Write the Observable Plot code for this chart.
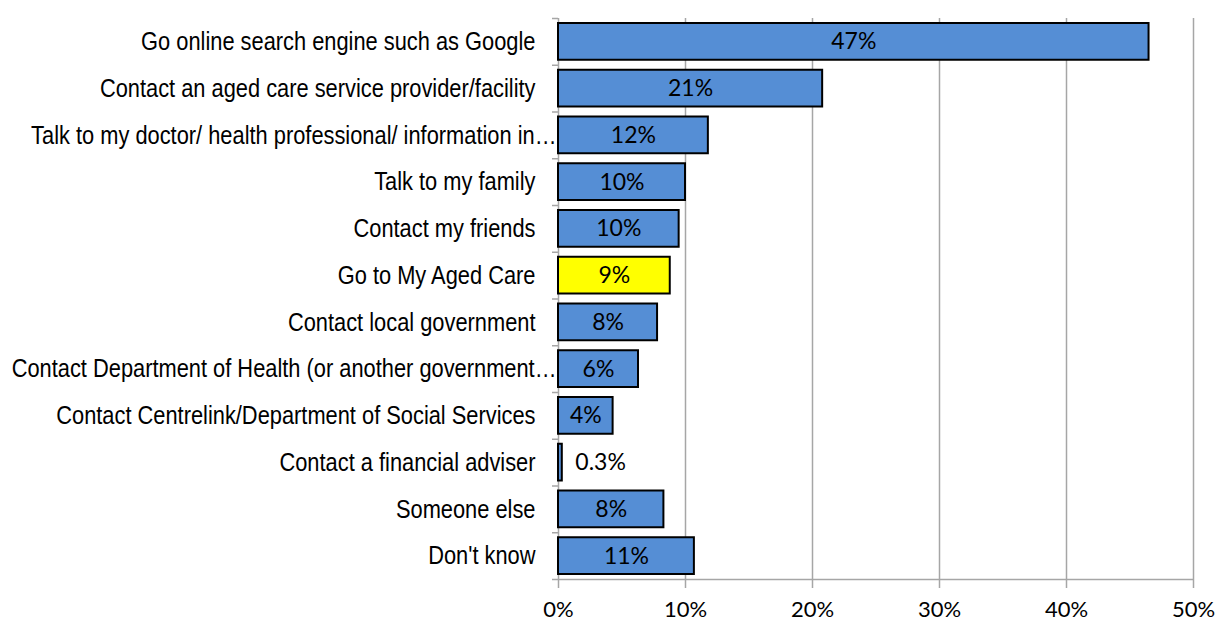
<!DOCTYPE html>
<html>
<head>
<meta charset="utf-8">
<script src="https://cdn.jsdelivr.net/npm/d3@7"></script>
<script src="https://cdn.jsdelivr.net/npm/@observablehq/plot@0.6"></script>
<style>
  html, body { margin: 0; padding: 0; background: #fff; }
</style>
</head>
<body>
<div id="chart"></div>
<script>
const categories = [
  "Go online search engine such as Google",
  "Contact an aged care service provider/facility",
  "Talk to my doctor/ health professional/ information in…",
  "Talk to my family",
  "Contact my friends",
  "Go to My Aged Care",
  "Contact local government",
  "Contact Department of Health (or another government…",
  "Contact Centrelink/Department of Social Services",
  "Contact a financial adviser",
  "Someone else",
  "Don't know"
];
const values = [46.5, 20.8, 11.8, 10.0, 9.5, 8.8, 7.8, 6.3, 4.3, 0.3, 8.3, 10.7];
const valueLabels = ["47%", "21%", "12%", "10%", "10%", "9%", "8%", "6%", "4%", "0.3%", "8%", "11%"];
const highlighted = "Go to My Aged Care";
const xTicks = [0, 10, 20, 30, 40, 50];

const data = categories.map((c, i) => ({
  category: c, i, value: values[i], label: valueLabels[i],
  truncated: c.endsWith("…")
}));
const inside = data.filter(d => d.value >= 2);
const outside = data.filter(d => d.value < 2);

const gray = "#a6a6a6";
const narrow = 0.84;
const catFont = "'Liberation Sans', Arial, sans-serif";
const chart = Plot.plot({
  width: 1216,
  height: 623,
  marginLeft: 558,
  marginRight: 23,
  marginTop: 18,
  marginBottom: 44,
  style: { fontFamily: "Lato, sans-serif", background: "#fff", color: "#000" },
  x: { domain: [0, 50] },
  y: { domain: [0, 12], reverse: true },
  color: { type: "identity" },
  marks: [
    Plot.ruleX(xTicks.slice(1), { stroke: gray, strokeWidth: 1.5 }),
    Plot.ruleX([0], { stroke: gray, strokeWidth: 1.5 }),
    Plot.ruleY([12], { stroke: gray, strokeWidth: 1.5 }),
    Plot.axisY({ ticks: d3.range(0, 13), tickSize: 6, tickFormat: () => "", label: null, stroke: gray, strokeWidth: 1.5 }),
    Plot.axisX({ ticks: xTicks, tickSize: 9, tickPadding: 13, tickFormat: d => d + "%", label: null,
      stroke: gray, strokeWidth: 1.5, fill: "#000", fontSize: 22 }),
    Plot.rectX(data, {
      x1: 0, x2: "value", y1: "i", y2: d => d.i + 1,
      insetTop: 5, insetBottom: 5,
      fill: d => d.category === highlighted ? "#ffff00" : "#558ed5",
      stroke: "#000", strokeWidth: 2
    }),
    Plot.text(inside, {
      x: d => d.value / 2, y: d => d.i + 0.5, text: "label",
      textAnchor: "middle", fontSize: 23, fontFamily: "Lato, sans-serif", fill: "#000"
    }),
    Plot.text(outside, {
      x: "value", y: d => d.i + 0.5, text: "label",
      textAnchor: "start", dx: 13, fontSize: 23, fontFamily: "Lato, sans-serif", fill: "#000"
    }),
    Plot.text(data.filter(d => !d.truncated), {
      y: d => d.i + 0.5, frameAnchor: "left", dx: -23, textAnchor: "end",
      text: "category", fontSize: 26, fontFamily: catFont,
      fill: "#000", className: "catlabel"
    }),
    Plot.text(data.filter(d => d.truncated), {
      y: d => d.i + 0.5, frameAnchor: "left", dx: -2, textAnchor: "end",
      text: "category", fontSize: 26, fontFamily: catFont,
      fill: "#000", className: "catlabel"
    })
  ]
});
// condense the category labels horizontally (narrow typeface look)
d3.select(chart).selectAll(".catlabel text").each(function() {
  const t = this.getAttribute("transform") || "";
  this.setAttribute("transform", t + ` scale(${narrow},1)`);
});
document.getElementById("chart").appendChild(chart);
</script>
</body>
</html>
